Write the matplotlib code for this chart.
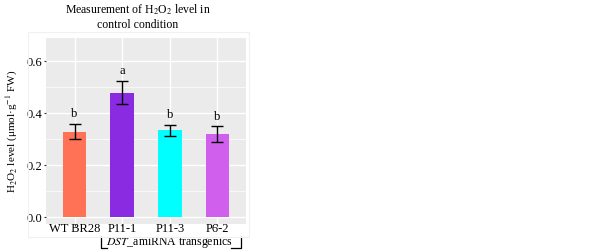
import matplotlib
matplotlib.use("Agg")
import matplotlib.pyplot as plt
import matplotlib.transforms as mtransforms
from matplotlib.patches import Rectangle
import numpy as np

categories = ["WT BR28", "P11-1", "P11-3", "P6-2"]
values = [0.33, 0.48, 0.335, 0.32]
errors = [0.03, 0.045, 0.02, 0.03]
letters = ["b", "a", "b", "b"]
colors = ["#FF7256", "#8A2BE2", "#00FFFF", "#D15FEE"]
yticks = [0.0, 0.2, 0.4, 0.6]

plt.rcParams['font.family'] = ['Liberation Serif', 'DejaVu Serif']
plt.rcParams['mathtext.fontset'] = 'stix'

fig = plt.figure(figsize=(6.02, 2.52), dpi=100)
ax = fig.add_axes([46/602, 1-224/252, 200/602, (224-38)/252])
ax.set_facecolor("#EBEBEB")

# faint outer border
fig.patches.append(Rectangle((28/602, 1-237/252), (249-28)/602, (237-32)/252,
                             transform=fig.transFigure, fill=False,
                             edgecolor="#F0F0F0", linewidth=0.8, zorder=0))

x = np.arange(len(categories))
ax.set_xlim(-0.6, 3.6)
ax.set_ylim(-0.025, 0.69)

for yv in [0.1, 0.3, 0.5]:
    ax.axhline(yv, color="white", linewidth=0.5, zorder=0)
for yv in yticks:
    ax.axhline(yv, color="white", linewidth=1.0, zorder=0)
for xv in x:
    ax.axvline(xv, color="white", linewidth=1.0, zorder=0)

ax.bar(x, values, width=0.5, color=colors, zorder=2)
ax.errorbar(x, values, yerr=errors, fmt="none", ecolor="black",
            elinewidth=1.0, capsize=4, capthick=1.0, zorder=3)
for xi, v, e, l in zip(x, values, errors, letters):
    ax.text(xi, v + e + 0.015, l, ha="center", va="bottom", fontsize=9)

for s in ax.spines.values():
    s.set_visible(False)
ax.set_xticks(x)
ax.set_yticks(yticks)
ax.set_yticklabels([f"{t:.1f}" for t in yticks], fontsize=9)
ax.tick_params(axis="both", length=1.5, color="#333333", pad=1)
ax.set_xticklabels([])
# x category labels placed just under the panel
xtrans = mtransforms.blended_transform_factory(ax.transData, fig.transFigure)
for xi, c in zip(x, categories):
    ax.text(xi, 1-229.5/252, c, ha="center", va="center", fontsize=9,
            transform=xtrans, clip_on=False)
ax.set_ylabel("H$_2$O$_2$ level (μmol·g$^{-1}$ FW)", fontsize=8, labelpad=5)

fig.text(138/602, 1-10/252, r"Measurement of H$_2$O$_2$ level in", ha="center", va="center", fontsize=8.5)
fig.text(138/602, 1-25/252, "control condition", ha="center", va="center", fontsize=8.5)

# bracket for transgenic lines
yb_top = 1-237/252
yb_bot = 1-248/252
xl = x[1] - 0.44
xr = x[3] + 0.5
ax.plot([xl, xl, xl + 0.12], [yb_top, yb_bot, yb_bot], color="black", lw=0.9,
        transform=xtrans, clip_on=False)
ax.plot([xr - 0.22, xr, xr], [yb_bot, yb_bot, yb_top], color="black", lw=0.9,
        transform=xtrans, clip_on=False)
ax.text((xl + xr) / 2 - 0.03, 1-243/252, r"$\mathit{DST}$_amiRNA transgenics",
        ha="center", va="center", fontsize=8.5, transform=xtrans)

fig.savefig("out.png", dpi=100)
